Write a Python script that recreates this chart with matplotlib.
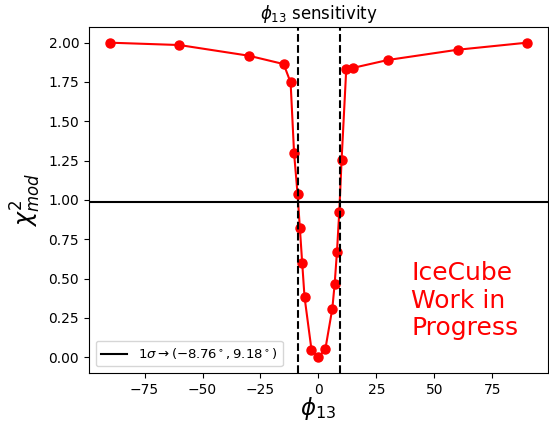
import matplotlib
matplotlib.use("Agg")
import matplotlib.pyplot as plt
import numpy as np

# Data
phi13 = np.array([-90, -60, -30, -15, -12, -10.5, -9, -8, -7, -6, -3, 0,
                  3, 6, 7, 8, 9, 10, 12, 15, 30, 60, 90])
chi2 = np.array([2.00, 1.985, 1.917, 1.864, 1.747, 1.297, 1.038, 0.82, 0.60, 0.384, 0.049, 0.0,
                 0.053, 0.31, 0.465, 0.67, 0.925, 1.255, 1.83, 1.84, 1.89, 1.955, 2.00])
one_sigma = 0.99
bounds = [-8.76, 9.18]

fig = plt.figure(figsize=(5.49, 4.21), dpi=100)
ax = fig.add_axes([0.162, 0.114, 0.836, 0.822])

ax.plot(phi13, chi2, 'o-', color='red', linewidth=1.5, markersize=6.5)
ax.axhline(one_sigma, color='black', linewidth=1.5,
           label=r'$1\sigma \rightarrow (%.2f^\circ, %.2f^\circ)$' % (bounds[0], bounds[1]))
for b in bounds:
    ax.axvline(b, color='black', linestyle='--', linewidth=1.5)

ax.text(40, 0.36, "IceCube\nWork in\nProgress", color='red', fontsize=18,
        ha='left', va='center')

ax.set_title(r'$\phi_{13}$ sensitivity', fontsize=12)
ax.set_xlabel(r'$\phi_{13}$', fontsize=16.5, labelpad=-1)
ax.set_ylabel(r'$\chi^2_{mod}$', fontsize=17)
ax.legend(loc='lower left', fontsize=9.5)

plt.savefig("out.png", dpi=100)
